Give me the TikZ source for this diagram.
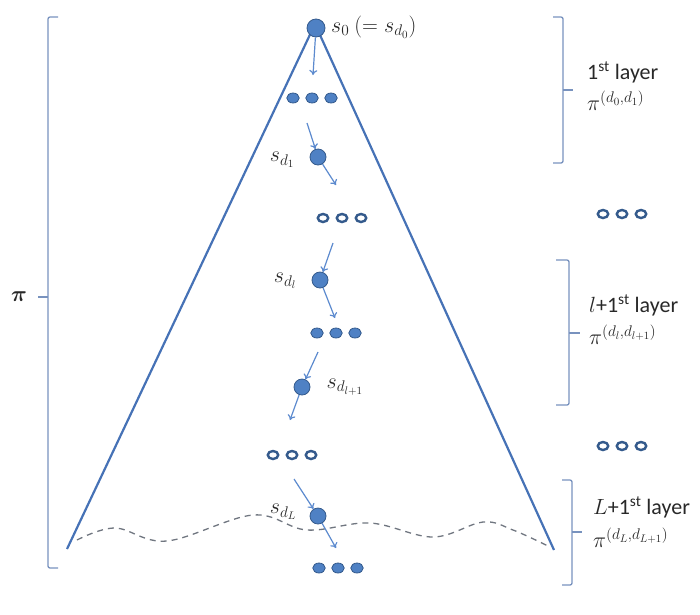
\RequirePackage{fix-cm}
\documentclass[tikz,border=0pt]{standalone}
\usepackage{fontspec}
\setmainfont{Carlito}
\usepackage{amsmath}
\usepackage{tikz}
\usetikzlibrary{shapes.geometric,arrows.meta}
\definecolor{edgeblue}{RGB}{70,114,182}
\definecolor{dotblue}{RGB}{79,129,196}
\definecolor{dotline}{RGB}{52,90,140}
\definecolor{arrowblue}{RGB}{92,138,206}
\definecolor{braceblue}{RGB}{120,146,190}
\definecolor{wavegray}{RGB}{112,118,128}
\definecolor{labeltext}{RGB}{40,40,40}
\tikzstyle{state} = [circle, fill=dotblue, draw=dotline, line width=0.8pt, minimum size=16pt, inner sep=0pt]
\tikzstyle{full} = [ellipse, fill=dotblue, draw=dotline, line width=0.8pt, minimum width=12.5pt, minimum height=10pt, inner sep=0pt]
\tikzstyle{hollow} = [ellipse, fill=white, draw=dotline, line width=2.4pt, minimum width=10.5pt, minimum height=8pt, inner sep=0pt]
\tikzstyle{move} = [-{To[length=5pt,width=8pt]}, arrowblue, line width=1.2pt]
\tikzstyle{brace} = [braceblue, line width=1.3pt, rounded corners=2pt]
\tikzstyle{lbl} = [text=labeltext, font=\fontsize{22}{26}\selectfont, inner sep=1pt]
\tikzstyle{mlbl} = [text=labeltext, font=\fontsize{22}{26}\selectfont, inner sep=1pt]

\begin{document}
\begin{tikzpicture}[x=1pt, y=-1pt, label distance=5pt]
\useasboundingbox (0,0) rectangle (700,614);

\coordinate (apex) at (315,24);
\coordinate (baseL) at (67,549);
\coordinate (baseR) at (554,550);
\draw[edgeblue, line width=2.2pt, line join=round] (baseL) -- (apex) -- (baseR);
\draw[wavegray, dashed, dash pattern=on 6pt off 5pt, line width=1.3pt]
    plot[smooth, tension=0.6] coordinates {(77,540) (115,528) (167,541) (253,515)
    (307,530) (370,523) (433,537) (483,522) (513,530) (548,546)};

\node[state, minimum width=18pt, minimum height=15pt] (s0) at (316,28) {};
\node[mlbl, anchor=west] (s0lbl) at (330,27) {$s_0\ (=s_{d_0})$};

\foreach \i/\x in {a/0,b/19,c/38} {
    \node[full] (r1\i) at (293+\x,98) {};
    \node[hollow] (r2\i) at (323+\x,218) {};
    \node[full] (r3\i) at (317+\x,333) {};
    \node[hollow] (r4\i) at (273+\x,455) {};
    \node[full] (r5\i) at (319+\x,568) {};
    \node[hollow] (q1\i) at (603+\x,214) {};
    \node[hollow] (q2\i) at (603+\x,446) {};
}

\node[state, label={[mlbl, yshift=-3pt, xshift=-9pt]left:$s_{d_1}$}] (d1) at (318,157) {};
\node[state, label={[mlbl, yshift=-1pt, xshift=-9pt]left:$s_{d_l}$}] (dl) at (320,280) {};
\node[state, label={[mlbl, xshift=10pt]right:$s_{d_{l+1}}$}] (dlp) at (302,387) {};
\node[state, label={[mlbl, yshift=4pt, xshift=-7pt]left:$s_{d_L}$}] (dL) at (318,516) {};

\coordinate (e0) at (313,75);
\coordinate (a1) at (307,123);
\coordinate (e1) at (336,185);
\coordinate (a2) at (333,243);
\coordinate (e2) at (335,318);
\coordinate (a3) at (318,352);
\coordinate (e3) at (290,420);
\coordinate (a4) at (294,479);
\coordinate (e4) at (336,548);

\draw[move] (s0) -- (e0);
\draw[move] (a1) -- (d1);
\draw[move] (d1) -- (e1);
\draw[move] (a2) -- (dl);
\draw[move] (dl) -- (e2);
\draw[move] (a3) -- (dlp);
\draw[move] (dlp) -- (e3);
\draw[move] (a4) -- (dL);
\draw[move] (dL) -- (e4);

\draw[brace] (58,17) -- (48,17) -- (48,568) -- (58,568);
\draw[brace] (38,297) -- (48,297);
\node[mlbl] (pi) at (19,297) {$\boldsymbol{\pi}$};

\draw[brace] (553,17) -- (563,17) -- (563,163) -- (553,163);
\draw[brace] (563,90) -- (573,90);
\node[lbl, anchor=west] (lay1) at (586,72) {1\textsuperscript{st} layer};
\node[mlbl, anchor=west] (pol1) at (586,101) {$\pi^{(d_0,d_1)}$};

\draw[brace] (556,260) -- (569,260) -- (569,405) -- (556,405);
\draw[brace] (569,333) -- (580,333);
\node[lbl, anchor=west] (lay2) at (588,305) {$l$+1\textsuperscript{st} layer};
\node[mlbl, anchor=west] (pol2) at (588,335) {$\pi^{(d_l,d_{l+1})}$};

\draw[brace] (562,480) -- (572,480) -- (572,585) -- (562,585);
\draw[brace] (572,532) -- (582,532);
\node[lbl, anchor=west] (lay3) at (592,507) {$L$+1\textsuperscript{st} layer};
\node[mlbl, anchor=west] (pol3) at (592,538) {$\pi^{(d_L,d_{L+1})}$};
\end{tikzpicture}
\end{document}
